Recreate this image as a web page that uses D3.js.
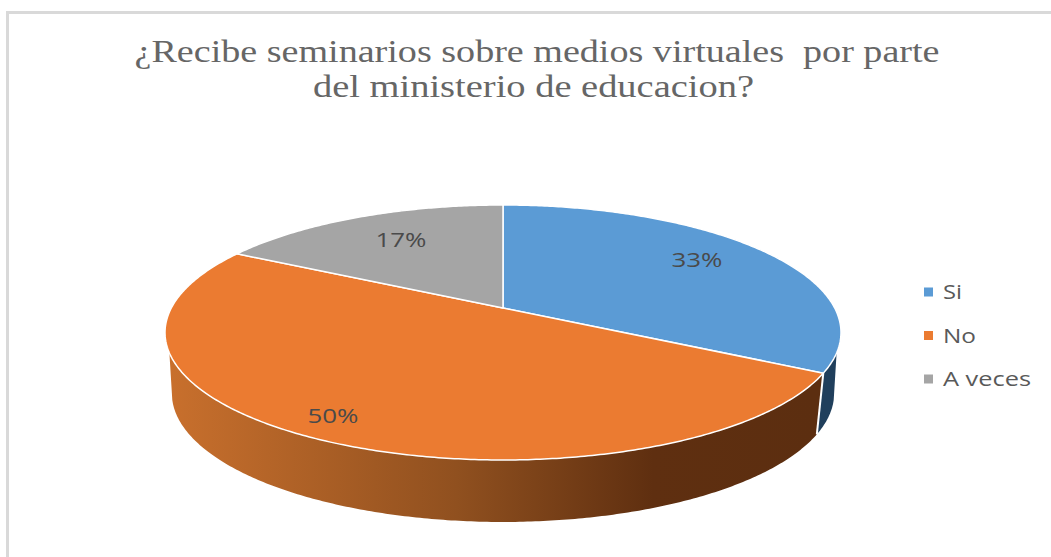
<!DOCTYPE html>
<html>
<head>
<meta charset="utf-8">
<script src="https://cdn.jsdelivr.net/npm/d3@7"></script>
<style>
  html, body { margin: 0; padding: 0; background: #fff; }
  svg { display: block; }
</style>
</head>
<body>
<svg id="chart" width="1051" height="557"></svg>
<script>
// Chart data
var categories = ["Si", "No", "A veces"];
var percentValues = [33, 50, 17];
var sliceColors = ["#5B9BD5", "#EB7B31", "#A5A5A5"];
var titleLines = ["¿Recibe seminarios sobre medios virtuales  por parte", "del ministerio de educacion?"];

var svg = d3.select("#chart");

// Frame of the chart, open at the bottom
svg.append("path")
  .attr("d", "M7.5,557V12.5H1051")
  .attr("fill", "none")
  .attr("stroke", "#d9d9d9")
  .attr("stroke-width", 3);

// Title, stretched to the width seen in the picture
var titleWidth = [805, 441];
var titleCenter = [537, 533.5];
svg.selectAll(".title")
  .data(titleLines)
  .enter()
  .append("text")
  .attr("class", "title")
  .attr("x", function (d, i) { return titleCenter[i]; })
  .attr("y", function (d, i) { return 62 + i * 34.5; })
  .attr("text-anchor", "middle")
  .attr("textLength", function (d, i) { return titleWidth[i]; })
  .attr("lengthAdjust", "spacingAndGlyphs")
  .attr("font-family", "Liberation Serif")
  .attr("font-size", 32)
  .attr("fill", "#666666")
  .attr("xml:space", "preserve")
  .text(function (d) { return d; });

// The pie lies in perspective: a circle seen through a projective map
var TILT = 0.192;
var topRing = { cx: 503, cy: 308, rx: 331.7, ry: 122.8 };
var bottomRing = { cx: 503, cy: 368.5, rx: 325, ry: 124 };

function project(ring, angle) {
  var u = Math.sin(angle);
  var v = -Math.cos(angle);
  var w = 1 - TILT * v;
  return [ring.cx + ring.rx * u / w, ring.cy + ring.ry * v / w];
}

function ringPoints(ring, a0, a1) {
  var n = Math.max(2, Math.ceil(Math.abs(a1 - a0) / 0.01));
  return d3.range(n + 1).map(function (i) {
    return project(ring, a0 + (a1 - a0) * i / n);
  });
}

var pie = d3.pie().sort(null).value(function (d) { return d; });
var arcs = pie(percentValues);
var line = d3.line();

var defs = svg.append("defs");
var sideGradient = defs.append("linearGradient")
  .attr("id", "sideOrange")
  .attr("gradientUnits", "userSpaceOnUse")
  .attr("x1", 165).attr("x2", 815)
  .attr("y1", 0).attr("y2", 0);
sideGradient.append("stop").attr("offset", "0%").attr("stop-color", "#C9702D");
sideGradient.append("stop").attr("offset", "45%").attr("stop-color", "#90501F");
sideGradient.append("stop").attr("offset", "75%").attr("stop-color", "#5F2F10");
sideGradient.append("stop").attr("offset", "100%").attr("stop-color", "#5C2E10");

// Outer walls, only the part facing the viewer
var deg = Math.PI / 180;
var walls = [
  { topFrom: 110 * deg, bottomFrom: 104 * deg, to: arcs[0].endAngle, fill: "#203F5C" },
  { topFrom: 250 * deg, bottomFrom: 256 * deg, to: arcs[1].startAngle, fill: "url(#sideOrange)" }
];
walls.forEach(function (w) {
  var pts = ringPoints(topRing, w.topFrom, w.to).concat(ringPoints(bottomRing, w.to, w.bottomFrom));
  svg.append("path")
    .attr("d", line(pts) + "Z")
    .attr("fill", w.fill);
});

// White edge between the two walls
var edgeTop = project(topRing, arcs[0].endAngle);
var edgeBottom = project(bottomRing, arcs[0].endAngle);
svg.append("line")
  .attr("x1", edgeTop[0]).attr("y1", edgeTop[1])
  .attr("x2", edgeBottom[0]).attr("y2", edgeBottom[1])
  .attr("stroke", "#fff")
  .attr("stroke-width", 2);

// Top faces
svg.selectAll(".slice")
  .data(arcs)
  .enter()
  .append("path")
  .attr("class", "slice")
  .attr("d", function (d) {
    return line([[topRing.cx, topRing.cy]].concat(ringPoints(topRing, d.startAngle, d.endAngle))) + "Z";
  })
  .attr("fill", function (d, i) { return sliceColors[i]; })
  .attr("stroke", "#fff")
  .attr("stroke-width", 1.5)
  .attr("stroke-linejoin", "round");

// Percent labels
var labelPos = [[697, 260], [333, 416], [401, 240]];
svg.selectAll(".pct")
  .data(percentValues)
  .enter()
  .append("text")
  .attr("class", "pct")
  .attr("x", function (d, i) { return labelPos[i][0]; })
  .attr("y", function (d, i) { return labelPos[i][1]; })
  .attr("dy", "0.35em")
  .attr("text-anchor", "middle")
  .attr("textLength", 51)
  .attr("lengthAdjust", "spacingAndGlyphs")
  .attr("font-family", "Open Sans")
  .attr("font-size", 20)
  .attr("fill", "#4a4a4a")
  .text(function (d) { return d + "%"; });

// Legend
var legendY = d3.scalePoint().domain(categories).range([292, 379]);
var legendWidth = [19, 33, 88];
var legend = svg.selectAll(".legend")
  .data(categories)
  .enter()
  .append("g")
  .attr("class", "legend")
  .attr("transform", function (d) { return "translate(0," + legendY(d) + ")"; });
legend.append("rect")
  .attr("x", 924).attr("y", -4.5)
  .attr("width", 9).attr("height", 9)
  .attr("fill", function (d, i) { return sliceColors[i]; });
legend.append("text")
  .attr("x", 943)
  .attr("dy", "0.35em")
  .attr("textLength", function (d, i) { return legendWidth[i]; })
  .attr("lengthAdjust", "spacingAndGlyphs")
  .attr("font-family", "Open Sans")
  .attr("font-size", 20)
  .attr("fill", "#595959")
  .text(function (d) { return d; });
</script>
</body>
</html>
